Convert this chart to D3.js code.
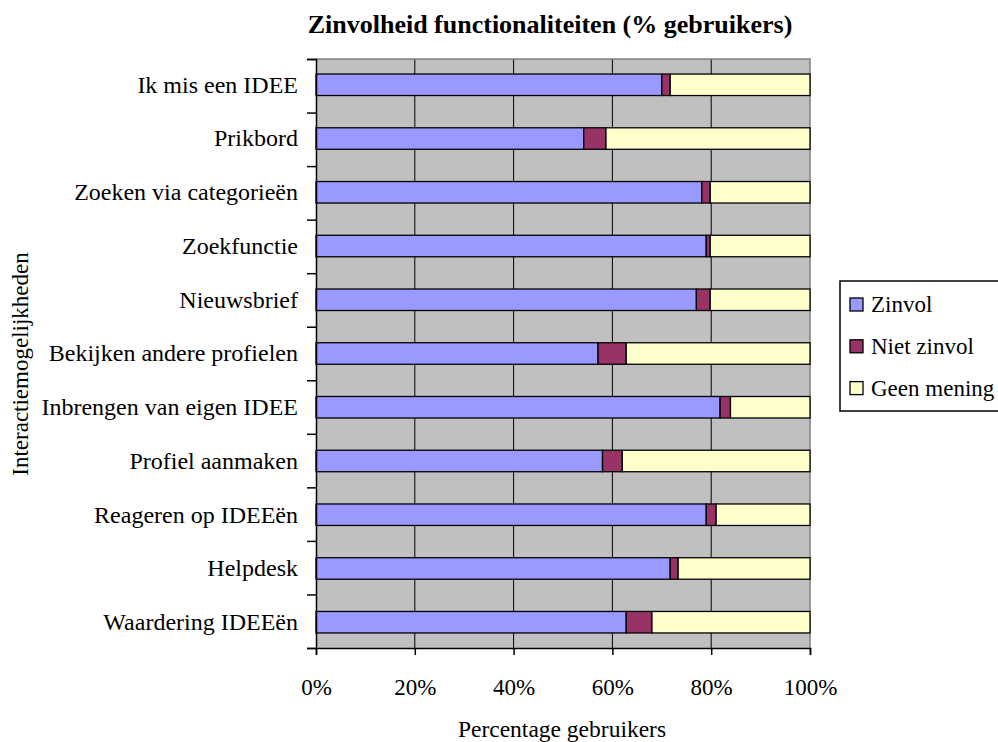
<!DOCTYPE html>
<html>
<head>
<meta charset="utf-8">
<script src="https://cdn.jsdelivr.net/npm/d3@7"></script>
<style>
  body { margin: 0; background: #fff; }
  svg text { font-family: 'Liberation Serif', 'Times New Roman', Times, serif; fill: #000; }
</style>
</head>
<body>
<div id="chart"></div>
<script>
const width = 998, height = 742;
const plot = { left: 316, right: 810, top: 59, bottom: 648 };

// data, top to bottom
const categories = [
    'Ik mis een IDEE', 'Prikbord', 'Zoeken via categorieën', 'Zoekfunctie',
    'Nieuwsbrief', 'Bekijken andere profielen', 'Inbrengen van eigen IDEE',
    'Profiel aanmaken', 'Reageren op IDEEën', 'Helpdesk', 'Waardering IDEEën'
];
const zinvol = [70.0, 54.2, 78.1, 79.0, 77.0, 57.1, 81.8, 58.0, 79.0, 71.7, 62.8];
const nietZinvol = [1.7, 4.5, 1.7, 0.8, 2.8, 5.7, 2.1, 4.0, 2.0, 1.6, 5.2];
const geenMening = [28.3, 41.3, 20.2, 20.2, 20.2, 37.2, 16.1, 38.0, 19.0, 26.7, 32.0];
const seriesNames = ['Zinvol', 'Niet zinvol', 'Geen mening'];
const seriesColors = ['#9999ff', '#993366', '#ffffcc'];
const xTicks = [0, 0.2, 0.4, 0.6, 0.8, 1];

const serif = "'Liberation Serif', 'Times New Roman', Times, serif";

const rows = categories.map((c, i) => ({
    cat: c, 'Zinvol': zinvol[i], 'Niet zinvol': nietZinvol[i], 'Geen mening': geenMening[i]
}));

const stacked = d3.stack().keys(seriesNames).offset(d3.stackOffsetExpand)(rows);

const x = d3.scaleLinear().domain([0, 1]).range([plot.left, plot.right]);
const y = d3.scaleBand()
    .domain(categories)
    .range([plot.top, plot.bottom])
    .paddingInner(0.6)
    .paddingOuter(0.28);
const yEdge = d3.scaleLinear().domain([0, categories.length]).range([plot.top, plot.bottom]);

const svg = d3.select('#chart').append('svg')
    .attr('width', width)
    .attr('height', height)
    .attr('font-family', serif);

// plot background
svg.append('rect')
    .attr('x', plot.left).attr('y', plot.top)
    .attr('width', plot.right - plot.left).attr('height', plot.bottom - plot.top)
    .attr('fill', '#c0c0c0');

// vertical gridlines
svg.append('g')
    .selectAll('line')
    .data(xTicks.slice(1, -1))
    .enter().append('line')
    .attr('x1', d => x(d)).attr('x2', d => x(d))
    .attr('y1', plot.top).attr('y2', plot.bottom)
    .attr('stroke', '#000').attr('stroke-width', 1);

// top / right border
svg.append('path')
    .attr('d', `M${plot.left},${plot.top}H${plot.right}V${plot.bottom}`)
    .attr('fill', 'none').attr('stroke', '#808080').attr('stroke-width', 1.5);

// bars
svg.append('g')
    .selectAll('g')
    .data(stacked)
    .enter().append('g')
    .attr('fill', (d, i) => seriesColors[i])
    .selectAll('rect')
    .data(d => d)
    .enter().append('rect')
    .attr('x', d => x(d[0]))
    .attr('width', d => x(d[1]) - x(d[0]))
    .attr('y', d => y(d.data.cat))
    .attr('height', y.bandwidth())
    .attr('stroke', '#000')
    .attr('stroke-width', 1.3);

// y axis: tick marks at band edges
svg.append('g')
    .attr('transform', `translate(${plot.left},0)`)
    .call(d3.axisLeft(yEdge).tickValues(d3.range(categories.length + 1)).tickSize(9).tickFormat(''))
    .call(g => g.select('.domain').attr('stroke-width', 1.5))
    .call(g => g.selectAll('line').attr('stroke-width', 1.5));

// y axis labels
svg.append('g')
    .attr('transform', `translate(${plot.left - 18},0)`)
    .call(d3.axisLeft(y).tickSize(0).tickPadding(0))
    .attr('font-family', serif)
    .attr('font-size', 24)
    .call(g => g.select('.domain').remove())
    .call(g => g.selectAll('text').attr('dy', '0.33em').attr('fill', '#000'));

// x axis
svg.append('g')
    .attr('transform', `translate(0,${plot.bottom})`)
    .call(d3.axisBottom(x).tickValues(xTicks).tickSize(7).tickFormat(d3.format('.0%')))
    .attr('font-family', serif)
    .attr('font-size', 23)
    .call(g => g.select('.domain').attr('stroke-width', 1.5))
    .call(g => g.selectAll('line').attr('stroke-width', 1.5))
    .call(g => g.selectAll('text').attr('y', 47).attr('dy', null).attr('fill', '#000'));

// title
svg.append('text')
    .attr('x', 550).attr('y', 33)
    .attr('text-anchor', 'middle')
    .attr('font-size', 26)
    .attr('font-weight', 'bold')
    .text('Zinvolheid functionaliteiten (% gebruikers)');

// axis titles
svg.append('text')
    .attr('x', 562).attr('y', 737)
    .attr('text-anchor', 'middle')
    .attr('font-size', 23.5)
    .text('Percentage gebruikers');

svg.append('text')
    .attr('transform', 'translate(28,364) rotate(-90)')
    .attr('text-anchor', 'middle')
    .attr('font-size', 23)
    .text('Interactiemogelijkheden');

// legend
const legend = svg.append('g');
legend.append('rect')
    .attr('x', 840).attr('y', 281)
    .attr('width', 170).attr('height', 130)
    .attr('fill', '#fff').attr('stroke', '#000').attr('stroke-width', 1.5);

const item = legend.selectAll('.item')
    .data(seriesNames)
    .enter().append('g')
    .attr('class', 'item')
    .attr('transform', (d, i) => `translate(850,${304.5 + i * 41.8})`);

item.append('rect')
    .attr('x', 0).attr('y', -6.5)
    .attr('width', 13).attr('height', 13)
    .attr('fill', (d, i) => seriesColors[i])
    .attr('stroke', '#000').attr('stroke-width', 1.3);

item.append('text')
    .attr('x', 21).attr('dy', '0.33em')
    .attr('font-size', 23)
    .text(d => d);
</script>
</body>
</html>
